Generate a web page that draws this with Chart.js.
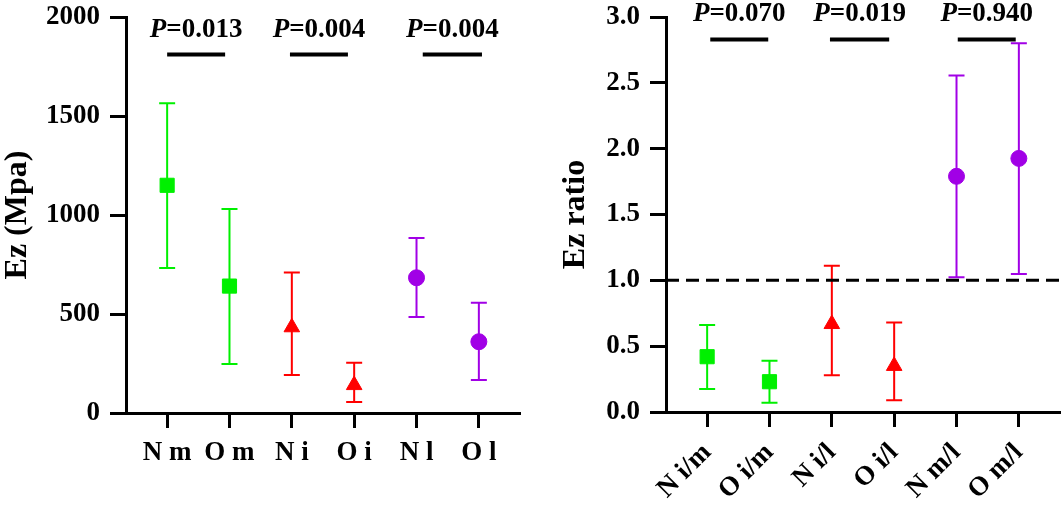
<!DOCTYPE html>
<html>
<head>
<meta charset="utf-8">
<script src="https://cdn.jsdelivr.net/npm/chart.js@4/dist/chart.umd.min.js"></script>
<style>
  html, body { margin: 0; padding: 0; background: #fff; }
  #wrap { position: relative; width: 1062px; height: 506px; overflow: hidden; }
  #leftChart { position: absolute; left: 0; top: 0; }
  #rightChart { position: absolute; left: 540px; top: 0; }
</style>
</head>
<body>
<div id="wrap">
  <canvas id="leftChart" width="531" height="506"></canvas>
  <canvas id="rightChart" width="522" height="506"></canvas>
</div>
<script>
// Left panel: Ez (Mpa)
const leftLabels = ['N m', 'O m', 'N i', 'O i', 'N l', 'O l'];
const leftMean = [1150, 641, 433, 141, 683, 360];
const leftLow = [732, 247, 192, 55, 485, 167];
const leftHigh = [1565, 1030, 709, 254, 884, 557];
const leftPValues = ['0.013', '0.004', '0.004'];
const leftPLevel = 1810;
const leftYTicks = [0, 500, 1000, 1500, 2000];

// Right panel: Ez ratio
const rightLabels = ['N i/m', 'O i/m', 'N i/l', 'O i/l', 'N m/l', 'O m/l'];
const rightMean = [0.42, 0.23, 0.668, 0.35, 1.79, 1.926];
const rightLow = [0.175, 0.07, 0.28, 0.09, 1.023, 1.048];
const rightHigh = [0.66, 0.39, 1.11, 0.68, 2.555, 2.80];
const rightPValues = ['0.070', '0.019', '0.940'];
const rightPLevel = 2.83;
const rightYTicks = [0, 0.5, 1.0, 1.5, 2.0, 2.5, 3.0];
const refLine = 1.0;

// comparison bracket spans (category units)
const leftBrackets = [[0, 0.93], [1.97, 2.9], [4.1, 5.05]];
const rightBrackets = [[0.05, 0.98], [1.97, 2.92], [4.02, 4.95]];

const groupColors = ['#00F000', '#FF0000', '#A100E6'];
const groupShapes = ['rect', 'triangle', 'circle'];
const groupRadius = [10, 9, 8];
const FONT = '"Liberation Serif", "Times New Roman", serif';

// build one scatter dataset per colour group (two categories each)
function buildDatasets(mean, low, high) {
    return [0, 1, 2].map(g => {
        const idx = [g * 2, g * 2 + 1];
        return {
            type: 'scatter',
            data: idx.map(i => ({ x: i, y: mean[i] })),
            errLow: idx.map(i => low[i]),
            errHigh: idx.map(i => high[i]),
            backgroundColor: groupColors[g],
            borderColor: groupColors[g],
            pointStyle: groupShapes[g],
            pointRadius: groupRadius[g],
            pointBorderWidth: 1,
            pointHoverRadius: groupRadius[g]
        };
    });
}

// error bars drawn under the markers
const errorBarPlugin = {
    id: 'errorBars',
    beforeDatasetsDraw(chart) {
        const ctx = chart.ctx;
        const xs = chart.scales.x, ys = chart.scales.y;
        ctx.save();
        chart.data.datasets.forEach(ds => {
            if (!ds.errLow) return;
            ctx.strokeStyle = ds.borderColor;
            ctx.lineWidth = 2;
            ds.data.forEach((p, i) => {
                const x = xs.getPixelForValue(p.x);
                const yl = ys.getPixelForValue(ds.errLow[i]);
                const yh = ys.getPixelForValue(ds.errHigh[i]);
                ctx.beginPath();
                ctx.moveTo(x, yl); ctx.lineTo(x, yh);
                ctx.moveTo(x - 8, yl); ctx.lineTo(x + 8, yl);
                ctx.moveTo(x - 8, yh); ctx.lineTo(x + 8, yh);
                ctx.stroke();
            });
        });
        ctx.restore();
    }
};

// P value brackets and labels
const pValuePlugin = {
    id: 'pValues',
    afterDraw(chart, args, opts) {
        const ctx = chart.ctx;
        const xs = chart.scales.x, ys = chart.scales.y;
        const y = ys.getPixelForValue(opts.level);
        ctx.save();
        opts.brackets.forEach((b, i) => {
            const x1 = xs.getPixelForValue(b[0]);
            const x2 = xs.getPixelForValue(b[1]);
            ctx.strokeStyle = '#000';
            ctx.lineWidth = 4;
            ctx.beginPath();
            ctx.moveTo(x1, y); ctx.lineTo(x2, y);
            ctx.stroke();

            const italic = 'italic bold 27px ' + FONT;
            const bold = 'bold 27px ' + FONT;
            const rest = '=' + opts.values[i];
            ctx.font = italic;
            const wP = ctx.measureText('P').width;
            ctx.font = bold;
            const wR = ctx.measureText(rest).width;
            const left = (x1 + x2) / 2 - (wP + wR) / 2;
            ctx.fillStyle = '#000';
            ctx.textBaseline = 'alphabetic';
            ctx.textAlign = 'left';
            ctx.font = italic;
            ctx.fillText('P', left, y - 18);
            ctx.font = bold;
            ctx.fillText(rest, left + wP, y - 18);
        });
        ctx.restore();
    }
};

function makeOptions(cfg) {
    return {
        responsive: false,
        animation: false,
        events: [],
        layout: { autoPadding: false, padding: { left: 0, top: 17, right: cfg.rightPad, bottom: 0 } },
        plugins: {
            legend: { display: false },
            tooltip: { enabled: false },
            pValues: { level: cfg.pLevel, brackets: cfg.brackets, values: cfg.pValues }
        },
        scales: {
            x: {
                type: 'linear',
                min: -0.66,
                max: 5.66,
                afterBuildTicks: s => { s.ticks = cfg.labels.map((_, i) => ({ value: i })); },
                afterFit: s => {
                    s.height = cfg.xHeight;
                    s.paddingLeft = 0; s.paddingRight = 0;
                },
                border: { display: true, color: '#000', width: 3 },
                grid: { display: true, drawOnChartArea: false, drawTicks: true, tickLength: 15, tickWidth: 3, tickColor: '#000' },
                ticks: {
                    autoSkip: false,
                    minRotation: cfg.rotation,
                    maxRotation: cfg.rotation,
                    padding: cfg.xPad,
                    color: '#000',
                    font: { family: FONT, size: 27, weight: 'bold' },
                    callback: v => cfg.labels[v]
                }
            },
            y: {
                type: 'linear',
                min: cfg.yTicks[0],
                max: cfg.yTicks[cfg.yTicks.length - 1],
                afterBuildTicks: s => { s.ticks = cfg.yTicks.map(v => ({ value: v })); },
                afterFit: s => {
                    s.width = 126;
                    s.paddingTop = 0; s.paddingBottom = 0;
                },
                border: { display: true, color: '#000', width: 3 },
                grid: { display: true, drawOnChartArea: false, drawTicks: true, tickLength: 16, tickWidth: 3, tickColor: '#000' },
                ticks: {
                    padding: 10,
                    color: '#000',
                    font: { family: FONT, size: 27, weight: 'bold' },
                    callback: v => cfg.tickFormat(v)
                },
                title: {
                    display: true,
                    text: cfg.yTitle,
                    color: '#000',
                    font: { family: FONT, size: 32, weight: 'bold', lineHeight: 1 },
                    padding: { top: cfg.titlePad, bottom: 0 }
                }
            }
        }
    };
}

new Chart(document.getElementById('leftChart'), {
    data: { datasets: buildDatasets(leftMean, leftLow, leftHigh) },
    options: makeOptions({
        labels: leftLabels, yTicks: leftYTicks, rightPad: 11, xHeight: 93,
        rotation: 0, xPad: 9, yTitle: 'Ez (Mpa)', titlePad: 2,
        tickFormat: v => String(v),
        pLevel: leftPLevel, brackets: leftBrackets, pValues: leftPValues
    }),
    plugins: [errorBarPlugin, pValuePlugin]
});

const rightSets = buildDatasets(rightMean, rightLow, rightHigh);
rightSets.unshift({
    type: 'line',
    data: [{ x: -0.66, y: refLine }, { x: 5.66, y: refLine }],
    borderColor: '#000',
    borderWidth: 3,
    borderDash: [13, 7],
    pointRadius: 0,
    fill: false
});

new Chart(document.getElementById('rightChart'), {
    data: { datasets: rightSets },
    options: makeOptions({
        labels: rightLabels, yTicks: rightYTicks, rightPad: 2, xHeight: 94,
        rotation: 45, xPad: 10, yTitle: 'Ez ratio', titlePad: 20,
        tickFormat: v => v.toFixed(1),
        pLevel: rightPLevel, brackets: rightBrackets, pValues: rightPValues
    }),
    plugins: [errorBarPlugin, pValuePlugin]
});
</script>
</body>
</html>
